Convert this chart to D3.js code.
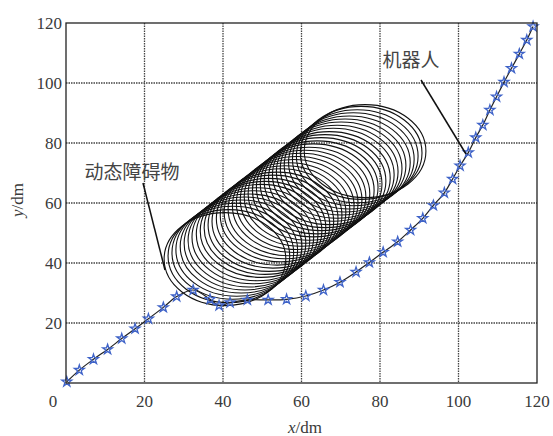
<!DOCTYPE html>
<html><head><meta charset="utf-8">
<script src="https://cdn.jsdelivr.net/npm/d3@7"></script>
<style>body{margin:0;background:#fff}</style>
</head><body>
<svg id="c" width="553" height="436"></svg>
<script>
// Robot path
const robotX = [0.2,3.4,7.0,10.6,14.2,17.6,21.0,24.8,28.2,32.4,36.7,39.0,41.8,46.2,51.5,56.2,61.1,65.6,69.8,73.9,77.3,80.8,84.5,87.8,90.9,93.6,96.4,98.5,100.4,102.5,104.4,106.2,108.0,109.7,111.6,113.5,115.5,117.4,119.0];
const robotY = [0.4,4.3,7.9,11.2,14.8,18.1,21.4,25.2,28.8,31.0,27.9,25.8,26.8,27.7,27.7,27.9,29.0,31.0,33.6,37.0,40.2,43.6,47.1,51.0,54.9,59.2,63.4,68.0,72.4,76.8,81.8,86.0,91.0,95.4,100.3,104.9,109.7,114.3,118.8];
// Dynamic obstacle: successive circle centres (dm) and radius
const obsX = [40.5,41.5,42.5,43.5,44.6,45.6,46.6,47.6,48.7,49.7,50.7,51.7,52.7,53.8,54.8,55.8,56.8,57.9,58.9,59.9,60.9,61.9,63.0,64.0,65.0,66.0,67.1,68.1,69.1,70.1,71.1,72.2,73.2,74.2,75.2,76.2];
const obsY = [41.3,42.3,43.4,44.4,45.5,46.5,47.5,48.6,49.6,50.7,51.7,52.7,53.8,54.8,55.9,56.9,57.9,59.0,60.0,61.1,62.1,63.1,64.2,65.2,66.3,67.3,68.3,69.4,70.4,71.5,72.5,73.5,74.6,75.6,76.7,77.3];
const obsR = 15.5;
const xTicks = [0,20,40,60,80,100,120];
const yTicks = [20,40,60,80,100,120];
const gridVals = [20,40,60,80,100];

const svg = d3.select("#c");
const L=66, R=537, T=23, B=383;
const x = d3.scaleLinear().domain([0,120]).range([L,R]);
const y = d3.scaleLinear().domain([0,120]).range([B,T]);
const serif = "'Liberation Serif','Times New Roman',serif";
const tcol = "#3a3a3a";

// grid
const g = svg.append("g");
g.selectAll("line.vx").data(gridVals).join("line")
  .attr("x1",d=>x(d)).attr("x2",d=>x(d)).attr("y1",T).attr("y2",B)
  .attr("stroke","#444").attr("stroke-width",1.3).attr("stroke-dasharray","1.5,1");
g.selectAll("line.hy").data(gridVals).join("line")
  .attr("y1",d=>y(d)).attr("y2",d=>y(d)).attr("x1",L).attr("x2",R)
  .attr("stroke","#444").attr("stroke-width",1.3).attr("stroke-dasharray","1.5,1");

// obstacle circles
const obs = obsX.map((cx,i)=>({cx,cy:obsY[i]}));
svg.append("g").selectAll("ellipse").data(obs).join("ellipse")
  .attr("cx",d=>x(d.cx)).attr("cy",d=>y(d.cy))
  .attr("rx",x(obsR)-x(0)).attr("ry",y(0)-y(obsR))
  .attr("fill","none").attr("stroke","#111").attr("stroke-width",1.1);

// robot path
const pts = robotX.map((v,i)=>[v,robotY[i]]);
svg.append("path").datum(pts)
  .attr("d",d3.line().x(d=>x(d[0])).y(d=>y(d[1])).curve(d3.curveCatmullRom))
  .attr("fill","none").attr("stroke","#222").attr("stroke-width",1.2);
svg.append("g").selectAll("path").data(pts).join("path")
  .attr("d",d3.symbol().type(d3.symbolStar).size(30))
  .attr("transform",d=>`translate(${x(d[0])},${y(d[1])})`)
  .attr("fill","none").attr("stroke","#3f63c8").attr("stroke-width",1.3);

// frame
svg.append("rect").attr("x",L).attr("y",T).attr("width",R-L).attr("height",B-T)
  .attr("fill","none").attr("stroke","#222").attr("stroke-width",1.3);

// tick labels
svg.append("g").selectAll("text").data(xTicks).join("text")
  .attr("x",d=> d===0 ? x(d)-13 : x(d)).attr("y",407)
  .attr("text-anchor","middle").attr("font-family",serif).attr("font-size",17).attr("fill",tcol)
  .text(d=>d);
svg.append("g").selectAll("text").data(yTicks).join("text")
  .attr("x",62).attr("y",d=>y(d)+6)
  .attr("text-anchor","end").attr("font-family",serif).attr("font-size",17).attr("fill",tcol)
  .text(d=>d);

// axis titles
const xt = svg.append("text").attr("x",305).attr("y",433).attr("text-anchor","middle")
  .attr("font-family",serif).attr("font-size",17).attr("fill",tcol);
xt.append("tspan").attr("font-style","italic").text("x");
xt.append("tspan").text("/dm");
const yt = svg.append("text").attr("transform","translate(23,200) rotate(-90)").attr("text-anchor","middle")
  .attr("font-family",serif).attr("font-size",17).attr("fill",tcol);
yt.append("tspan").attr("font-style","italic").text("y");
yt.append("tspan").text("/dm");

// annotations
const cjk = "'Noto Sans CJK SC',sans-serif";
svg.append("text").attr("x",132).attr("y",179).attr("text-anchor","middle")
  .attr("font-family",cjk).attr("font-size",19).attr("fill","#444").text("动态障碍物");
svg.append("line").attr("x1",143).attr("y1",183).attr("x2",165).attr("y2",270)
  .attr("stroke","#111").attr("stroke-width",1.5);
svg.append("text").attr("x",411).attr("y",67).attr("text-anchor","middle")
  .attr("font-family",cjk).attr("font-size",19).attr("fill","#444").text("机器人");
svg.append("line").attr("x1",421).attr("y1",80).attr("x2",466).attr("y2",154)
  .attr("stroke","#111").attr("stroke-width",1.5);
</script>
</body></html>
